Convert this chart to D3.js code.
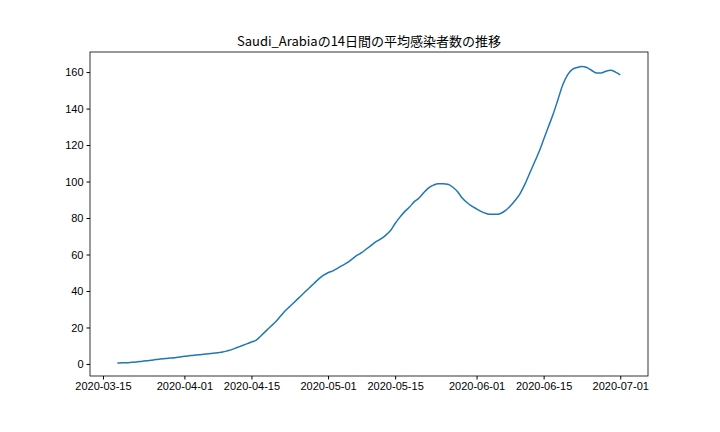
<!DOCTYPE html>
<html><head><meta charset="utf-8">
<script src="https://cdn.jsdelivr.net/npm/d3@7"></script>
<style>body{margin:0;background:#fff}svg{font-family:"Noto Sans CJK JP",sans-serif}</style>
</head><body><svg width="720" height="432"></svg>
<script>
const startDate = "2020-03-18";
const values = [
  0.5,0.6,0.7,0.9,1.1,1.4,1.7,2.0,2.4,2.7,3.0,3.2,3.4,3.8,
  4.2,4.5,4.8,5.0,5.3,5.6,5.9,6.2,6.5,7.2,8.0,9.0,10.0,11.0,12.0,
  13,15.5,18,20.5,23,26,29,31.5,34,36.5,39,41.5,44,46.5,48.5,
  50,51,52.5,54,55.5,57.5,59.5,61,63,65,67,68.5,70.5,73,77,
  80.5,83.5,86,89,91,94,96.5,98,98.8,98.8,98.5,97,94.5,91,88.5,86.5,
  85,83.5,82.5,82,82,82.5,84,86.5,89.5,93,98,104,110,116,123,
  130,137,145,153,158.5,161.5,162.5,163,162.5,161,159.5,159.5,160.5,161,160,158.5
];
const xTicks = ["2020-03-15","2020-04-01","2020-04-15","2020-05-01","2020-05-15","2020-06-01","2020-06-15","2020-07-01"];
const yTicks = [0,20,40,60,80,100,120,140,160];
const title = "Saudi_Arabiaの14日間の平均感染者数の推移";

const parse = d3.utcParse("%Y-%m-%d");
const t0 = parse(startDate);
const data = values.map((v,i)=>({d:d3.utcDay.offset(t0,i),v}));

const L=90,R=648,T=52,B=376;
const svg = d3.select("svg");
const x = d3.scaleUtc().domain([d3.utcHour.offset(parse("2020-03-12"),7), d3.utcHour.offset(parse("2020-07-06"),19)]).range([L,R]);
const y = d3.scaleLinear().domain([-6.6,171]).range([B,T]);

svg.append("g").attr("transform",`translate(0,${B})`)
  .call(d3.axisBottom(x).tickValues(xTicks.map(parse)).tickFormat(d3.utcFormat("%Y-%m-%d")).tickSize(3.5).tickPadding(3))
  .call(g=>g.selectAll("text").attr("font-size",11).attr("fill","#000"));
svg.append("g").attr("transform",`translate(${L},0)`)
  .call(d3.axisLeft(y).tickValues(yTicks).tickSize(3.5).tickPadding(3))
  .call(g=>g.selectAll("text").attr("font-size",11).attr("fill","#000"));
svg.selectAll(".domain").remove();
svg.append("rect").attr("x",L).attr("y",T).attr("width",R-L).attr("height",B-T)
  .attr("fill","none").attr("stroke","#000").attr("stroke-width",0.8);

svg.append("path").datum(data)
  .attr("d",d3.line().x(d=>x(d.d)).y(d=>y(d.v)).curve(d3.curveMonotoneX))
  .attr("fill","none").attr("stroke","#1f77b4").attr("stroke-width",1.5);

svg.append("text").attr("x",(L+R)/2).attr("y",T-6).attr("text-anchor","middle")
  .attr("font-size",13).text(title);
</script></body></html>
